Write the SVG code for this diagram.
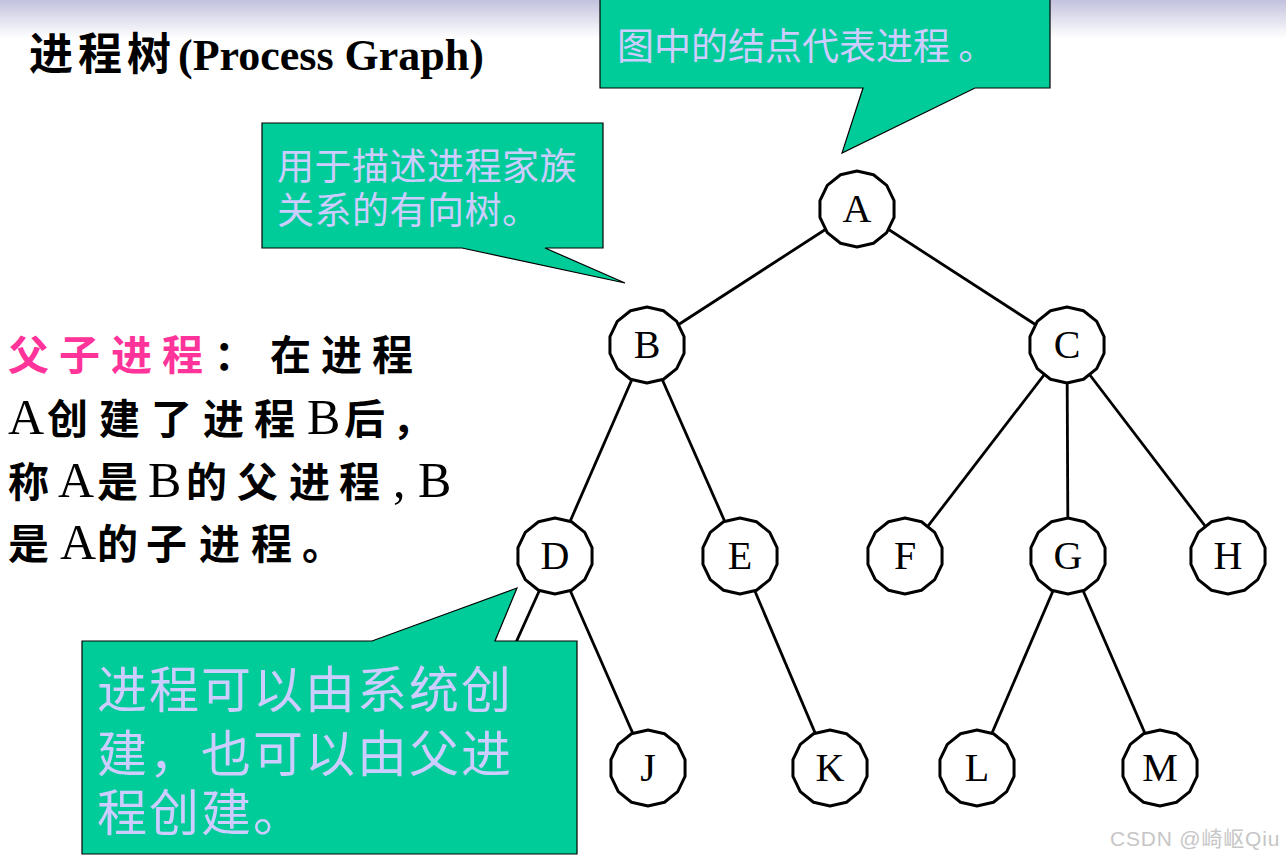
<svg xmlns="http://www.w3.org/2000/svg" xmlns:xlink="http://www.w3.org/1999/xlink" width="1286" height="861" viewBox="0 0 1286 861">
<style>
.edge{stroke:#000;stroke-width:2.8;fill:none}
.nshape{fill:#fff;stroke:#000;stroke-width:3;stroke-linejoin:round}
.nlabel{font-family:"Liberation Serif","Times New Roman",serif;font-size:40px;text-anchor:middle;fill:#000}
.callout{fill:#00CC99;stroke:#000;stroke-width:1.2;stroke-linejoin:miter}
.ctext{font-family:"Noto Sans CJK SC","Noto Sans",sans-serif;fill:#CCCCFF}
.kt{font-family:"Noto Sans CJK SC",sans-serif;font-size:41px;font-weight:700;fill:#000}
.tl{font-family:"Liberation Serif","Noto Sans CJK SC",serif;font-size:50px;font-weight:400}
</style>
<defs>
<linearGradient id="topband" x1="0" y1="0" x2="0" y2="1">
<stop offset="0" stop-color="#c2c2de"/>
<stop offset="1" stop-color="#ffffff"/>
</linearGradient>
<polygon id="poly" points="0,-38 16.49,-34.24 29.71,-23.69 37.05,-8.46 37.05,8.46 29.71,23.69 16.49,34.24 0,38 -16.49,34.24 -29.71,23.69 -37.05,8.46 -37.05,-8.46 -29.71,-23.69 -16.49,-34.24"/>
</defs>
<rect x="0" y="0" width="1286" height="861" fill="#fff"/>
<rect x="0" y="0" width="1286" height="38" fill="url(#topband)"/>

<g id="title">
<text class="kt" x="29" y="70" style="font-size:44px;letter-spacing:5px">进程树<tspan x="178" style="font-family:'Liberation Serif',serif;font-size:44px;font-weight:700;letter-spacing:0">(Process Graph)</tspan></text>
</g>

<g id="connectors">
<line class="edge" x1="857" y1="209" x2="647" y2="345"/>
<line class="edge" x1="857" y1="209" x2="1067" y2="345"/>
<line class="edge" x1="647" y1="345" x2="555" y2="556"/>
<line class="edge" x1="647" y1="345" x2="740" y2="556"/>
<line class="edge" x1="1067" y1="345" x2="905" y2="556"/>
<line class="edge" x1="1067" y1="345" x2="1068" y2="556"/>
<line class="edge" x1="1067" y1="345" x2="1228" y2="556"/>
<line class="edge" x1="555" y1="556" x2="490" y2="700"/>
<line class="edge" x1="555" y1="556" x2="648" y2="768"/>
<line class="edge" x1="740" y1="556" x2="830" y2="768"/>
<line class="edge" x1="1068" y1="556" x2="977" y2="768"/>
<line class="edge" x1="1068" y1="556" x2="1160" y2="768"/>
</g>

<g id="node-A"><use xlink:href="#poly" class="nshape" x="857" y="209"/><text class="nlabel" x="857" y="222">A</text></g>
<g id="node-B"><use xlink:href="#poly" class="nshape" x="647" y="345"/><text class="nlabel" x="647" y="358">B</text></g>
<g id="node-C"><use xlink:href="#poly" class="nshape" x="1067" y="345"/><text class="nlabel" x="1067" y="358">C</text></g>
<g id="node-D"><use xlink:href="#poly" class="nshape" x="555" y="556"/><text class="nlabel" x="555" y="569">D</text></g>
<g id="node-E"><use xlink:href="#poly" class="nshape" x="740" y="556"/><text class="nlabel" x="740" y="569">E</text></g>
<g id="node-F"><use xlink:href="#poly" class="nshape" x="905" y="556"/><text class="nlabel" x="905" y="569">F</text></g>
<g id="node-G"><use xlink:href="#poly" class="nshape" x="1068" y="556"/><text class="nlabel" x="1068" y="569">G</text></g>
<g id="node-H"><use xlink:href="#poly" class="nshape" x="1228" y="556"/><text class="nlabel" x="1228" y="569">H</text></g>
<g id="node-J"><use xlink:href="#poly" class="nshape" x="648" y="768"/><text class="nlabel" x="648" y="781">J</text></g>
<g id="node-K"><use xlink:href="#poly" class="nshape" x="830" y="768"/><text class="nlabel" x="830" y="781">K</text></g>
<g id="node-L"><use xlink:href="#poly" class="nshape" x="977" y="768"/><text class="nlabel" x="977" y="781">L</text></g>
<g id="node-M"><use xlink:href="#poly" class="nshape" x="1160" y="768"/><text class="nlabel" x="1160" y="781">M</text></g>

<g id="callout-nodes">
<path class="callout" d="M600,-1 H1050 V88 H975 L842,153 L863,88 H600 Z"/>
<text class="ctext" x="617" y="60" style="font-size:37px">图中的结点代表进程 。</text>
</g>

<g id="callout-tree">
<path class="callout" d="M262,123 H603 V248 H545 L625,283 L462,248 H262 Z"/>
<text class="ctext" x="277" y="180" style="font-size:37px;letter-spacing:0.5px">用于描述进程家族</text>
<text class="ctext" x="277" y="224" style="font-size:37px;letter-spacing:0.5px">关系的有向树。</text>
</g>

<g id="callout-create">
<path class="callout" d="M82,641 H372 L517,588 L495,641 H577 V854 H82 Z"/>
<text class="ctext" x="97" y="708" style="font-size:50px;letter-spacing:2px">进程可以由系统创</text>
<text class="ctext" x="97" y="772" style="font-size:50px;letter-spacing:2px">建，也可以由父进</text>
<text class="ctext" x="97" y="831" style="font-size:50px;letter-spacing:2px">程创建。</text>
</g>

<g id="explanation">
<text class="kt" y="370"><tspan fill="#FF3399" x="8 59 111 162">父子进程</tspan><tspan x="214 270 321 372">：在进程</tspan></text>
<text class="kt" y="434"><tspan class="tl" x="8">A</tspan><tspan x="47 99 151 203 254">创建了进程</tspan><tspan class="tl" x="307">B</tspan><tspan x="344 392">后，</tspan></text>
<text class="kt" y="497"><tspan x="8">称</tspan><tspan class="tl" x="58">A</tspan><tspan x="97">是</tspan><tspan class="tl" x="148">B</tspan><tspan x="186 237 289 339">的父进程</tspan><tspan class="tl" x="393">,</tspan><tspan class="tl" x="418">B</tspan></text>
<text class="kt" y="559"><tspan x="8">是</tspan><tspan class="tl" x="60">A</tspan><tspan x="97 146 199 251 302">的子进程。</tspan></text>
</g>

<g id="watermark">
<text x="1110" y="846" style="font-family:'Liberation Sans','Noto Sans CJK SC',sans-serif;font-size:21px;letter-spacing:0.8px;fill:#c6c6c6">CSDN @崎岖Qiu</text>
</g>
</svg>
